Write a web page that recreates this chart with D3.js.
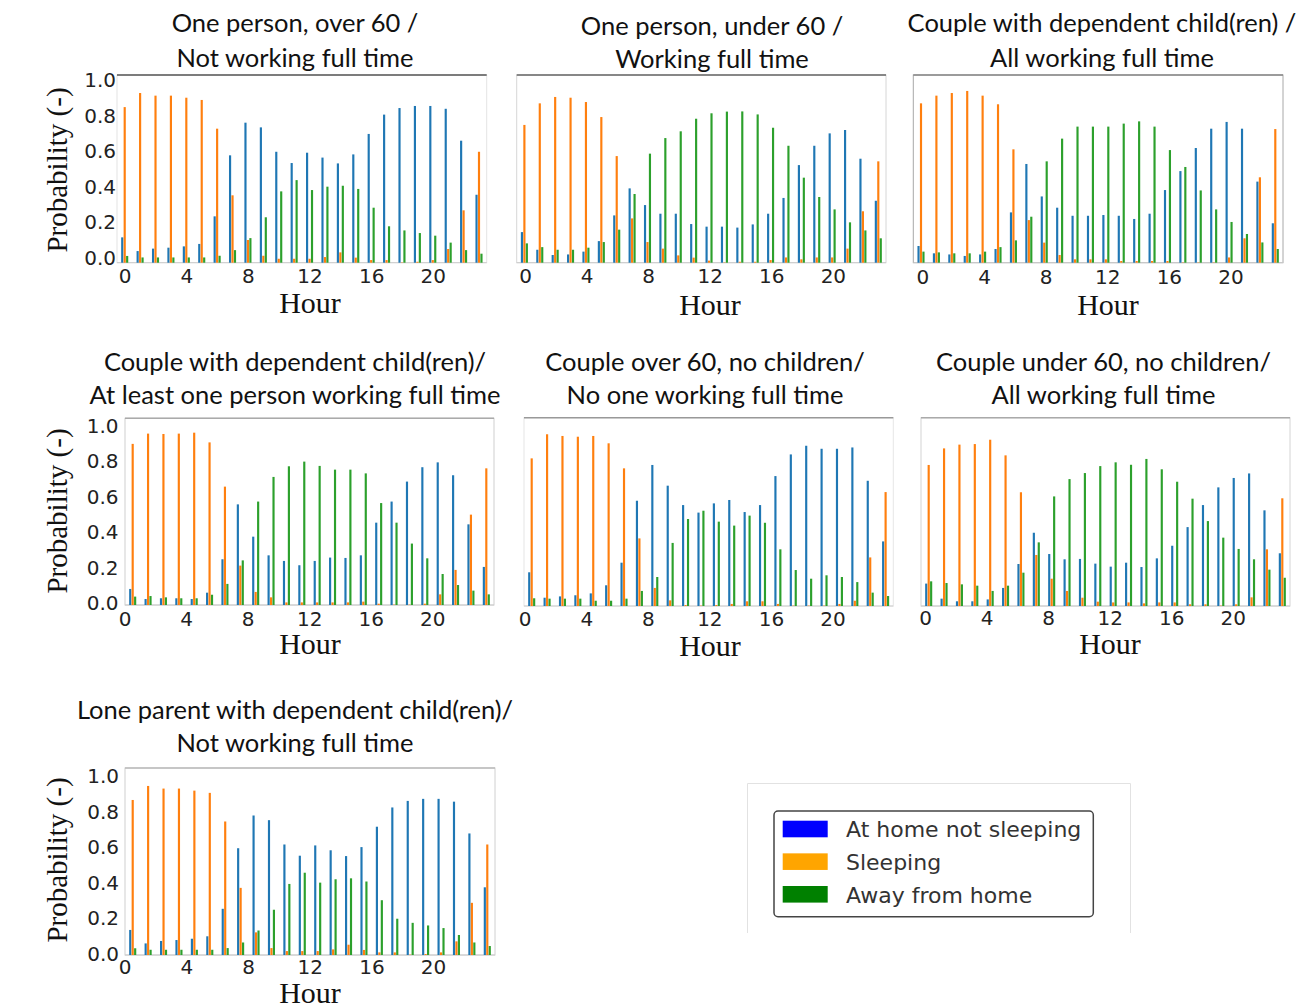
<!DOCTYPE html>
<html>
<head>
<meta charset="utf-8">
<title>Hourly occupancy probabilities by household type</title>
<script src="https://cdn.jsdelivr.net/npm/d3@7/dist/d3.min.js"></script>
<style>
  html, body { margin: 0; padding: 0; background: #ffffff; }
  svg { display: block; }
  .title { font-family: Lato, "Open Sans", sans-serif; font-size: 25.5px; fill: #111; }
  .tick text { font-family: "DejaVu Sans", sans-serif; font-size: 20px; fill: #222; }
  .axis-title { font-family: "Liberation Serif", "DejaVu Serif", serif; fill: #111; }
  .legend-text { font-family: "DejaVu Sans", sans-serif; font-size: 22px; fill: #333; }
</style>
</head>
<body>
<svg id="chart" width="1310" height="1006"></svg>
<script>
// ---- categories and tick labels ----
const hours = [0, 1, 2, 3, 4, 5, 6, 7, 8, 9, 10, 11, 12, 13, 14, 15, 16, 17, 18, 19, 20, 21, 22, 23];
const xTickValues = [0, 4, 8, 12, 16, 20];
const yTickValues = [0.0, 0.2, 0.4, 0.6, 0.8, 1.0];
const seriesNames = ["At home not sleeping", "Sleeping", "Away from home"];

// ---- One person, over 60 / Not working full time ----
const onePersonOver60Home  = [0.135, 0.062, 0.075, 0.080, 0.087, 0.100, 0.247, 0.572, 0.746, 0.721, 0.591, 0.531, 0.586, 0.560, 0.529, 0.577, 0.686, 0.789, 0.824, 0.835, 0.835, 0.820, 0.650, 0.362];
const onePersonOver60Sleep = [0.829, 0.904, 0.890, 0.890, 0.879, 0.867, 0.714, 0.359, 0.121, 0.037, 0.021, 0.021, 0.021, 0.030, 0.055, 0.027, 0.014, 0.014, 0.002, 0.005, 0.014, 0.073, 0.279, 0.591];
const onePersonOver60Away  = [0.036, 0.028, 0.028, 0.028, 0.028, 0.028, 0.037, 0.067, 0.131, 0.242, 0.380, 0.440, 0.387, 0.405, 0.410, 0.393, 0.293, 0.194, 0.172, 0.158, 0.144, 0.107, 0.067, 0.048];

// ---- One person, under 60 / Working full time ----
const onePersonUnder60Home  = [0.163, 0.069, 0.041, 0.044, 0.059, 0.115, 0.252, 0.396, 0.307, 0.261, 0.261, 0.206, 0.192, 0.192, 0.187, 0.204, 0.261, 0.345, 0.520, 0.623, 0.689, 0.707, 0.554, 0.330];
const onePersonUnder60Sleep = [0.734, 0.849, 0.883, 0.879, 0.856, 0.776, 0.568, 0.236, 0.110, 0.075, 0.039, 0.027, 0.011, 0.002, 0.005, 0.005, 0.014, 0.028, 0.018, 0.028, 0.028, 0.075, 0.274, 0.540];
const onePersonUnder60Away  = [0.103, 0.083, 0.069, 0.069, 0.080, 0.110, 0.176, 0.366, 0.581, 0.664, 0.700, 0.767, 0.796, 0.805, 0.806, 0.790, 0.719, 0.623, 0.453, 0.350, 0.284, 0.215, 0.172, 0.130];

// ---- Couple with dependent child(ren) / All working full time ----
const coupleChildAllHome  = [0.089, 0.050, 0.044, 0.036, 0.044, 0.073, 0.268, 0.526, 0.353, 0.293, 0.250, 0.250, 0.254, 0.250, 0.233, 0.261, 0.387, 0.488, 0.611, 0.714, 0.750, 0.714, 0.432, 0.210];
const coupleChildAllSleep = [0.849, 0.890, 0.904, 0.915, 0.890, 0.844, 0.604, 0.227, 0.107, 0.041, 0.018, 0.018, 0.018, 0.009, 0.009, 0.009, 0.009, 0.002, 0.002, 0.002, 0.028, 0.130, 0.455, 0.712];
const coupleChildAllAway  = [0.059, 0.055, 0.050, 0.050, 0.059, 0.083, 0.119, 0.245, 0.540, 0.661, 0.725, 0.725, 0.725, 0.741, 0.753, 0.725, 0.600, 0.510, 0.385, 0.284, 0.217, 0.153, 0.108, 0.073];

// ---- Couple with dependent child(ren) / At least one person working full time ----
const coupleChildOneHome  = [0.086, 0.032, 0.036, 0.036, 0.032, 0.066, 0.245, 0.539, 0.366, 0.266, 0.236, 0.213, 0.236, 0.254, 0.252, 0.266, 0.441, 0.554, 0.661, 0.738, 0.764, 0.695, 0.432, 0.204];
const coupleChildOneSleep = [0.863, 0.918, 0.916, 0.918, 0.923, 0.871, 0.634, 0.211, 0.070, 0.041, 0.014, 0.014, 0.014, 0.014, 0.014, 0.018, 0.007, 0.002, 0.002, 0.007, 0.057, 0.188, 0.484, 0.732];
const coupleChildOneAway  = [0.045, 0.048, 0.041, 0.036, 0.036, 0.055, 0.113, 0.239, 0.554, 0.686, 0.743, 0.768, 0.745, 0.725, 0.725, 0.705, 0.546, 0.441, 0.329, 0.250, 0.166, 0.107, 0.077, 0.057];

// ---- Couple over 60, no children / No one working full time ----
const coupleOver60Home  = [0.179, 0.044, 0.051, 0.057, 0.067, 0.110, 0.230, 0.559, 0.749, 0.639, 0.536, 0.496, 0.545, 0.563, 0.499, 0.536, 0.690, 0.805, 0.851, 0.835, 0.835, 0.842, 0.665, 0.343];
const coupleOver60Sleep = [0.784, 0.912, 0.903, 0.899, 0.903, 0.864, 0.731, 0.359, 0.096, 0.030, 0.005, 0.002, 0.005, 0.011, 0.025, 0.025, 0.011, 0.002, 0.002, 0.002, 0.011, 0.028, 0.258, 0.605];
const coupleOver60Away  = [0.041, 0.039, 0.039, 0.039, 0.028, 0.028, 0.039, 0.080, 0.154, 0.335, 0.462, 0.506, 0.448, 0.427, 0.480, 0.442, 0.301, 0.191, 0.145, 0.163, 0.154, 0.127, 0.071, 0.053];

// ---- Couple under 60, no children / All working full time ----
const coupleUnder60Home  = [0.119, 0.039, 0.025, 0.025, 0.035, 0.096, 0.223, 0.389, 0.276, 0.248, 0.250, 0.225, 0.209, 0.230, 0.207, 0.253, 0.320, 0.419, 0.536, 0.630, 0.680, 0.704, 0.508, 0.280];
const coupleUnder60Sleep = [0.749, 0.837, 0.857, 0.860, 0.883, 0.800, 0.604, 0.271, 0.145, 0.080, 0.044, 0.023, 0.019, 0.019, 0.014, 0.019, 0.019, 0.009, 0.009, 0.002, 0.009, 0.046, 0.301, 0.572];
const coupleUnder60Away  = [0.131, 0.122, 0.115, 0.108, 0.080, 0.108, 0.177, 0.338, 0.582, 0.674, 0.706, 0.743, 0.763, 0.750, 0.781, 0.726, 0.660, 0.570, 0.451, 0.363, 0.303, 0.248, 0.193, 0.150];

// ---- Lone parent with dependent child(ren) / Not working full time ----
const loneParentHome  = [0.134, 0.062, 0.075, 0.080, 0.087, 0.100, 0.247, 0.571, 0.746, 0.721, 0.591, 0.531, 0.586, 0.560, 0.529, 0.577, 0.686, 0.789, 0.824, 0.835, 0.835, 0.820, 0.650, 0.362];
const loneParentSleep = [0.829, 0.904, 0.890, 0.890, 0.879, 0.867, 0.714, 0.359, 0.121, 0.037, 0.021, 0.021, 0.021, 0.030, 0.055, 0.027, 0.014, 0.014, 0.002, 0.005, 0.014, 0.073, 0.279, 0.591];
const loneParentAway  = [0.036, 0.028, 0.028, 0.028, 0.028, 0.028, 0.037, 0.067, 0.131, 0.242, 0.380, 0.440, 0.387, 0.405, 0.410, 0.393, 0.293, 0.194, 0.172, 0.158, 0.144, 0.107, 0.067, 0.048];

// ---- styling ----
const barColors = ["#1f77b4", "#ff7f0e", "#2ca02c"];
const legendColors = ["#0000ff", "#ffa500", "#008000"];
const barOffsets = [-0.16, 0, 0.16];   // in hour units, relative to each hour
const barWidthUnits = 0.14;

// Panel layout: plot frame, title lines, where the tick labels sit.
const panels = [
  { title: ["One person, over 60 /", "Not working full time"], titleX: 295, titleY: [32, 66.7],
    series: [onePersonOver60Home, onePersonOver60Sleep, onePersonOver60Away],
    frame: { x0: 117, x1: 486.7, y0: 75, y1: 262.7 }, topColor: "#555", sideColor: "#e4e4e4",
    xLabelDx: 0, xLabelY: 276, yLabels: { right: 116, top: 79.7, bottom: 257 },
    hourX: 310, hourY: 313.3, probY: 170 },
  { title: ["One person, under 60 /", "Working full time"], titleX: 712, titleY: [35, 68.3],
    series: [onePersonUnder60Home, onePersonUnder60Sleep, onePersonUnder60Away],
    frame: { x0: 516.7, x1: 886, y0: 75, y1: 262.7 }, topColor: "#666", sideColor: "#d6d6d6",
    xLabelDx: 0.7, xLabelY: 276, yLabels: null, hourX: 710, hourY: 315 },
  { title: ["Couple with dependent child(ren) /", "All working full time"], titleX: 1102, titleY: [32, 66.7],
    series: [coupleChildAllHome, coupleChildAllSleep, coupleChildAllAway],
    frame: { x0: 913.3, x1: 1283, y0: 75, y1: 262.7 }, topColor: "#888", sideColor: "#a8a8a8",
    xLabelDx: 1.4, xLabelY: 276.5, yLabels: null, hourX: 1108, hourY: 315 },
  { title: ["Couple with dependent child(ren)/", "At least one person working full time"], titleX: 295, titleY: [371, 403.5],
    series: [coupleChildOneHome, coupleChildOneSleep, coupleChildOneAway],
    frame: { x0: 125, x1: 494, y0: 418.3, y1: 605 }, topColor: "#aaa", sideColor: "#cfcfcf",
    xLabelDx: -8, xLabelY: 618.5, yLabels: { right: 118.5, top: 425, bottom: 602.7 },
    hourX: 310, hourY: 654, probY: 511 },
  { title: ["Couple over 60, no children/", "No one working full time"], titleX: 705, titleY: [371, 403.5],
    series: [coupleOver60Home, coupleOver60Sleep, coupleOver60Away],
    frame: { x0: 524, x1: 893.3, y0: 417.7, y1: 606 }, topColor: "#999", sideColor: "#e6e6e6",
    xLabelDx: -7, xLabelY: 618.5, yLabels: null, hourX: 710, hourY: 655.5 },
  { title: ["Couple under 60, no children/", "All working full time"], titleX: 1103.5, titleY: [371, 403.5],
    series: [coupleUnder60Home, coupleUnder60Sleep, coupleUnder60Away],
    frame: { x0: 921, x1: 1290, y0: 417.7, y1: 606 }, topColor: "#aaa", sideColor: "#d4d4d4",
    xLabelDx: -3.5, xLabelY: 618, yLabels: null, hourX: 1110, hourY: 654 },
  { title: ["Lone parent with dependent child(ren)/", "Not working full time"], titleX: 295, titleY: [719, 751.5],
    series: [loneParentHome, loneParentSleep, loneParentAway],
    frame: { x0: 125, x1: 495, y0: 768, y1: 955 }, topColor: "#bbb", sideColor: "#d0d0d0",
    xLabelDx: -8, xLabelY: 967, yLabels: { right: 119, top: 775.3, bottom: 953.3 },
    hourX: 310, hourY: 1003, probY: 860 }
];

const svg = d3.select("#chart");

panels.forEach(p => {
  const f = p.frame;
  const x = d3.scaleLinear().domain([-0.5, 23.5]).range([f.x0, f.x1]);
  const y = d3.scaleLinear().domain([0, 1]).range([f.y1, f.y0]);
  const g = svg.append("g");

  // plot frame
  g.append("rect")
    .attr("x", f.x0).attr("y", f.y0)
    .attr("width", f.x1 - f.x0).attr("height", f.y1 - f.y0)
    .attr("fill", "none").attr("stroke", p.sideColor).attr("stroke-width", 1);
  g.append("line")
    .attr("x1", f.x0).attr("x2", f.x1).attr("y1", f.y0).attr("y2", f.y0)
    .attr("stroke", p.topColor).attr("stroke-width", 1.4);
  g.append("line")
    .attr("x1", f.x0).attr("x2", f.x1).attr("y1", f.y1).attr("y2", f.y1)
    .attr("stroke", "#cccccc").attr("stroke-width", 1);

  // bars: three series per hour
  const bw = x(barWidthUnits) - x(0);
  p.series.forEach((values, si) => {
    g.append("g").selectAll("rect")
      .data(hours)
      .join("rect")
      .attr("x", h => x(h + barOffsets[si]) - bw / 2)
      .attr("y", h => y(values[h]))
      .attr("width", bw)
      .attr("height", h => y(0) - y(values[h]))
      .attr("fill", barColors[si]);
  });

  // x tick labels
  const xAxis = g.append("g")
    .attr("transform", `translate(${p.xLabelDx},${p.xLabelY})`)
    .call(d3.axisBottom(x).tickValues(xTickValues).tickFormat(d3.format("d")).tickSize(0).tickPadding(0));
  xAxis.select(".domain").remove();
  xAxis.selectAll("text").attr("y", 0).attr("dy", "0.36em").attr("fill", "#222");

  // y tick labels (left column only)
  if (p.yLabels) {
    const yl = d3.scaleLinear().domain([0, 1]).range([p.yLabels.bottom, p.yLabels.top]);
    const yAxis = g.append("g")
      .attr("transform", `translate(${p.yLabels.right},0)`)
      .call(d3.axisLeft(yl).tickValues(yTickValues).tickFormat(d3.format(".1f")).tickSize(0).tickPadding(0));
    yAxis.select(".domain").remove();
    yAxis.selectAll("text").attr("dy", "0.36em").attr("fill", "#222");

    g.append("text")
      .attr("class", "axis-title")
      .attr("transform", `translate(67,${p.probY}) rotate(-90)`)
      .attr("text-anchor", "middle")
      .style("font-size", "29px")
      .text("Probability (-)");
  }

  // x axis title
  g.append("text")
    .attr("class", "axis-title")
    .attr("x", p.hourX).attr("y", p.hourY)
    .attr("text-anchor", "middle")
    .style("font-size", "30px")
    .text("Hour");

  // two-line panel title
  p.title.forEach((line, i) => {
    g.append("text")
      .attr("class", "title")
      .attr("x", p.titleX).attr("y", p.titleY[i])
      .attr("text-anchor", "middle")
      .text(line);
  });
});

// ---- legend ----
const legendArea = svg.append("g");
legendArea.append("path")
  .attr("d", "M747.5,933 V783.5 H1130.5 V933")
  .attr("fill", "none").attr("stroke", "#e2e2e2").attr("stroke-width", 1);
legendArea.append("rect")
  .attr("x", 774).attr("y", 811)
  .attr("width", 319.3).attr("height", 105.7)
  .attr("rx", 4).attr("ry", 4)
  .attr("fill", "#ffffff").attr("stroke", "#444").attr("stroke-width", 1.5);

const legendRow = d3.scaleLinear().domain([0, 2]).range([829, 894.3]);
const legendItems = legendArea.selectAll("g.item")
  .data(seriesNames)
  .join("g")
  .attr("class", "item")
  .attr("transform", (d, i) => `translate(0,${legendRow(i)})`);
legendItems.append("rect")
  .attr("x", 782.7).attr("y", -8.3)
  .attr("width", 45).attr("height", 16.6)
  .attr("fill", (d, i) => legendColors[i]);
legendItems.append("text")
  .attr("class", "legend-text")
  .attr("x", 846).attr("y", 8.3)
  .text(d => d);
</script>
</body>
</html>
